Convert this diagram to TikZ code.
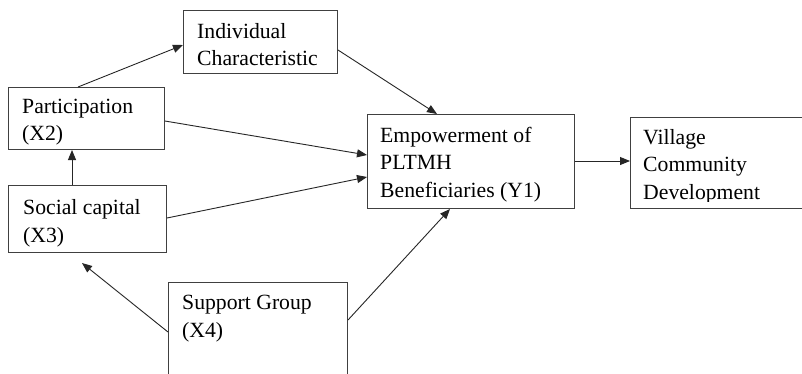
\documentclass[tikz,border=0pt]{standalone}
\usepackage{fontspec}
\setmainfont{Liberation Serif}
\usetikzlibrary{arrows.meta,calc}
\begin{document}
\begin{tikzpicture}[x=1pt,y=-1pt,
  box/.style={draw=black!75,line width=1pt,inner sep=0pt,anchor=north west},
  lbl/.style={anchor=base west,inner sep=0pt,align=left,font=\fontsize{21.7}{27.5}\selectfont},
  arr/.style={draw=black!85,line width=0.9pt,-{Triangle[length=10pt,width=8pt]}}]
\useasboundingbox (0,0) rectangle (802,373);
\clip (0,0) rectangle (802,373);
\fill[white] (0,0) rectangle (802,373);
% boxes
\node[box,minimum width=156pt,minimum height=62pt] (part) at (8,87) {};
\node[box,minimum width=154pt,minimum height=63pt] (indiv) at (183,10) {};
\node[box,minimum width=207pt,minimum height=94pt] (emp) at (367,114) {};
\node[box,minimum width=180pt,minimum height=91pt] (vil) at (630,117) {};
\node[box,minimum width=158pt,minimum height=67pt] (soc) at (8,185) {};
\node[box,minimum width=179pt,minimum height=118pt] (sup) at (168,282) {};
% texts (anchor at baseline of last line)
\node[lbl] (tindiv) at (197,65.5) {Individual\\Characteristic};
\node[lbl] (tpart) at (22,140.5) {Participation\\(X2)};
\node[lbl] (temp) at (380,197) {Empowerment of\\PLTMH\\Beneficiaries (Y1)};
\begin{scope}
\clip (630,117) rectangle (810,201);
\node[lbl] (tvil) at (643,199) {Village\\Community\\Development};
\end{scope}
\node[lbl] (tsoc) at (23,242) {Social capital\\(X3)};
\node[lbl] (tsup) at (182,337) {Support Group\\(X4)};
% arrows
\draw[arr] ([xshift=70pt]part.north west) -- ([yshift=-35pt]indiv.north west);
\draw[arr] ([yshift=-40pt]indiv.north east) -- ([xshift=70pt]emp.north west);
\draw[arr] ([yshift=-34pt]part.north east) -- ([yshift=-41pt]emp.north west);
\draw[arr] ([yshift=-33pt]soc.north east) -- ([yshift=-63pt]emp.north west);
\draw[arr] ([xshift=64pt]soc.north west) -- ([xshift=64pt]part.south west);
\draw[arr] ([yshift=-50pt]sup.north west) -- ([xshift=74pt,yshift=-10pt]soc.south west);
\draw[arr] ([yshift=-38pt]sup.north east) -- ([xshift=83pt]emp.south west);
\draw[arr] ([yshift=-47pt]emp.north east) -- ([yshift=-44pt]vil.north west);
\end{tikzpicture}
\end{document}
